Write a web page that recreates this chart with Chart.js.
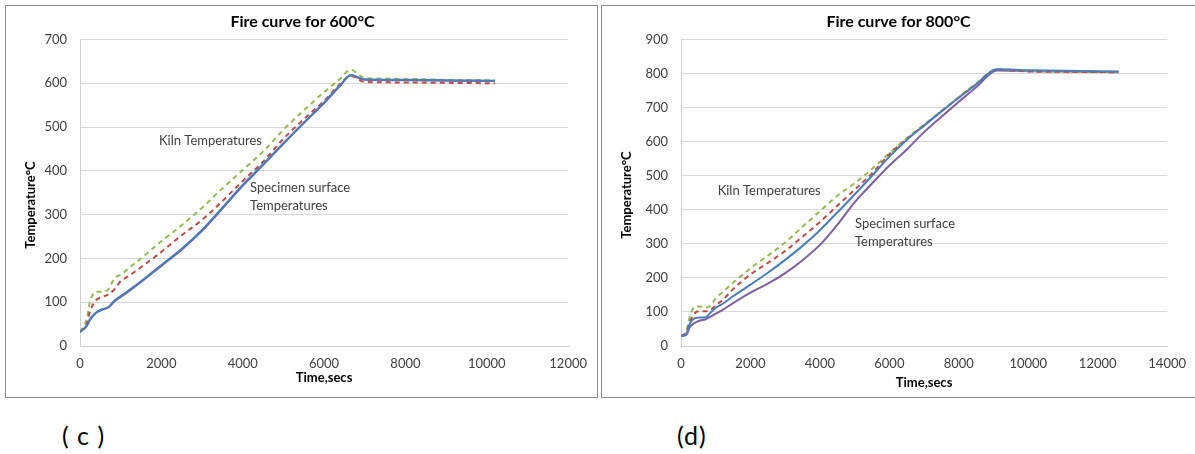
<!DOCTYPE html>
<html><head><meta charset="utf-8">
<script src="https://cdn.jsdelivr.net/npm/chart.js@4.4.1/dist/chart.umd.min.js"></script>
<style>
html,body{margin:0;padding:0;background:#fff;width:1195px;height:454px;overflow:hidden;font-family:Lato,"Liberation Sans",sans-serif;}
.frame{position:absolute;border:1px solid #8c8c8c;box-sizing:border-box;background:#fff;}
.lab{position:absolute;font-family:Lato,"Liberation Sans",sans-serif;font-size:25px;color:#000;letter-spacing:1px;white-space:pre;}
</style></head><body>
<div class="frame" style="left:5px;top:5px;width:593px;height:393px;"><canvas id="c1"></canvas></div>
<div class="frame" style="left:601px;top:5px;width:596px;height:393px;"><canvas id="c2"></canvas></div>
<div class="lab" style="left:62px;top:420px;">( c )</div>
<div class="lab" style="left:677px;top:420px;">(d)</div>
<script>
// ---- Chart (c): 600°C ----
const time600 = [0,160,250,400,550,700,850,1000,1200,1500,2000,2500,3000,3500,4000,4500,5000,5500,6000,6400,6650,7000,8000,9000,10200];
const specA600 = [32,46,62,77,84,89,104,114,127,148,185,222,265,316,368,415,463,510,556,596,619,609,608,607,606];
const specB600 = [32,45,60,76,83,88,102,112,125,146,183,220,263,314,366,413,462,509,555,595,618,608,607,606,605];
const kilnA600 = [32,50,80,105,112,118,130,148,160,180,215,253,288,331,377,421,473,518,560,599,617,603,602,601,600];
const kilnB600 = [32,60,103,124,124,130,155,163,178,200,239,276,316,360,402,444,494,538,580,611,631,612,610,608,607];
const xTicks600 = [0,2000,4000,6000,8000,10000,12000];
const yTicks600 = [0,100,200,300,400,500,600,700];

// ---- Chart (d): 800°C ----
const time800 = [0,160,250,400,550,700,850,1000,1200,1500,2000,2500,3000,3500,4000,4500,5000,5500,6000,6500,7000,7500,8000,8500,9100,10000,11000,12600];
const specA800 = [29,37,65,82,84,84,98,112,124,146,180,215,253,294,340,392,445,500,556,605,647,689,729,768,813,810,808,806];
const specB800 = [29,33,55,68,75,78,86,95,106,126,157,183,214,252,297,356,422,477,530,577,628,673,717,760,809,807,806,804];
const kilnA800 = [29,42,70,97,102,102,106,120,135,167,210,244,279,321,364,412,459,507,563,608,648,689,730,769,811,806,805,804];
const kilnB800 = [29,45,85,115,116,113,118,140,158,186,228,265,304,350,396,441,478,520,566,610,650,690,731,771,813,808,806,805];
const xTicks800 = [0,2000,4000,6000,8000,10000,12000,14000];
const yTicks800 = [0,100,200,300,400,500,600,700,800,900];

const FONT = 'Lato, "Liberation Sans", sans-serif';
const BLUE='#4a7ebb', RED='#be4b48', GREEN='#98b954', PURPLE='#7d60a0';

function pts(t, v){ return t.map((x,i)=>({x:x,y:v[i]})); }

function makeChart(id, w, h, cfg){
  const cv = document.getElementById(id);
  cv.style.width = w+'px'; cv.style.height = h+'px';
  cv.width = w; cv.height = h;
  const ds = (label, t, v, color, dashed) => ({
    label, data: pts(t, v), borderColor: color, backgroundColor: color,
    borderWidth: 2, borderDash: dashed ? [5,4] : [],
    pointRadius: 0, fill: false, cubicInterpolationMode: 'monotone'
  });
  const textPlugin = {
    id: 'texts',
    afterDraw(chart){
      const ctx = chart.ctx, xs = chart.scales.x, ys = chart.scales.y, ca = chart.chartArea;
      ctx.save();
      ctx.fillStyle = '#000';
      ctx.textAlign = 'center'; ctx.textBaseline = 'middle';
      ctx.font = 'bold 16px ' + FONT;
      ctx.fillText(cfg.title, cfg.titleX, cfg.titleY);
      ctx.font = 'bold 13px ' + FONT;
      ctx.fillText('Time,secs', (ca.left+ca.right)/2, cfg.xTitleY);
      ctx.save();
      ctx.translate(cfg.yTitleX, cfg.yTitleY);
      ctx.rotate(-Math.PI/2);
      ctx.fillText('Temperature°C', 0, 0);
      ctx.restore();
      ctx.font = '13px ' + FONT;
      ctx.fillStyle = '#404040';
      ctx.textAlign = 'left';
      for (const a of cfg.notes){
        ctx.fillText(a.text, xs.getPixelForValue(a.x), ys.getPixelForValue(a.y));
      }
      ctx.restore();
    }
  };
  return new Chart(cv, {
    type: 'line',
    data: { datasets: [
      ds('Specimen 1', cfg.t, cfg.sA, BLUE, false),
      ds('Kiln 1', cfg.t, cfg.kA, RED, true),
      ds('Kiln 2', cfg.t, cfg.kB, GREEN, true),
      ds('Specimen 2', cfg.t, cfg.sB, PURPLE, false)
    ]},
    options: {
      responsive: false, animation: false, devicePixelRatio: 1,
      layout: { padding: { top: cfg.padTop, right: cfg.padRight, left: 0, bottom: 0 } },
      plugins: { legend: { display: false }, title: { display: false }, tooltip: { enabled: false } },
      scales: {
        x: {
          type: 'linear', min: 0, max: cfg.xMax,
          afterBuildTicks: s => { s.ticks = cfg.xTicks.map(v=>({value:v})); },
          afterFit: s => { s.height = cfg.xH; },
          grid: { display: false, drawTicks: false },
          border: { display: true, color: '#d0d0d0', width: 1 },
          ticks: { color: '#404040', font: { family: FONT, size: 13 }, padding: 10, maxRotation: 0, autoSkip: false,
                   callback: v => String(v) }
        },
        y: {
          type: 'linear', min: 0, max: cfg.yMax,
          afterBuildTicks: s => { s.ticks = cfg.yTicks.map(v=>({value:v})); },
          afterFit: s => { s.width = cfg.yW; },
          grid: { color: '#d9d9d9', lineWidth: 1, drawTicks: false },
          border: { display: true, color: '#d0d0d0', width: 1 },
          ticks: { color: '#404040', font: { family: FONT, size: 13 }, padding: 13, callback: v => String(v) }
        }
      }
    },
    plugins: [textPlugin]
  });
}

// canvas 1 origin at page (6,6); canvas 2 origin at page (602,6)
makeChart('c1', 591, 391, {
  t: time600, sA: specA600, sB: specB600, kA: kilnA600, kB: kilnB600,
  xMax: 12000, yMax: 700, xTicks: xTicks600, yTicks: yTicks600,
  padTop: 33.5, padRight: 21, yW: 74, xH: 51,
  title: 'Fire curve for 600°C', titleX: 296.5, titleY: 15.5,
  xTitleY: 371.5, yTitleX: 25, yTitleY: 199,
  notes: [
    {text:'Kiln Temperatures', x:1940, y:469},
    {text:'Specimen surface', x:4180, y:362},
    {text:'Temperatures', x:4180, y:320}
  ]
});
makeChart('c2', 594, 391, {
  t: time800, sA: specA800, sB: specB800, kA: kilnA800, kB: kilnB800,
  xMax: 14000, yMax: 900, xTicks: xTicks800, yTicks: yTicks800,
  padTop: 33.5, padRight: 21, yW: 79, xH: 51,
  title: 'Fire curve for 800°C', titleX: 296.5, titleY: 15.5,
  xTitleY: 377, yTitleX: 25, yTitleY: 189,
  notes: [
    {text:'Kiln Temperatures', x:1055, y:457},
    {text:'Specimen surface', x:5010, y:358},
    {text:'Temperatures', x:5010, y:305}
  ]
});
</script>
</body></html>
